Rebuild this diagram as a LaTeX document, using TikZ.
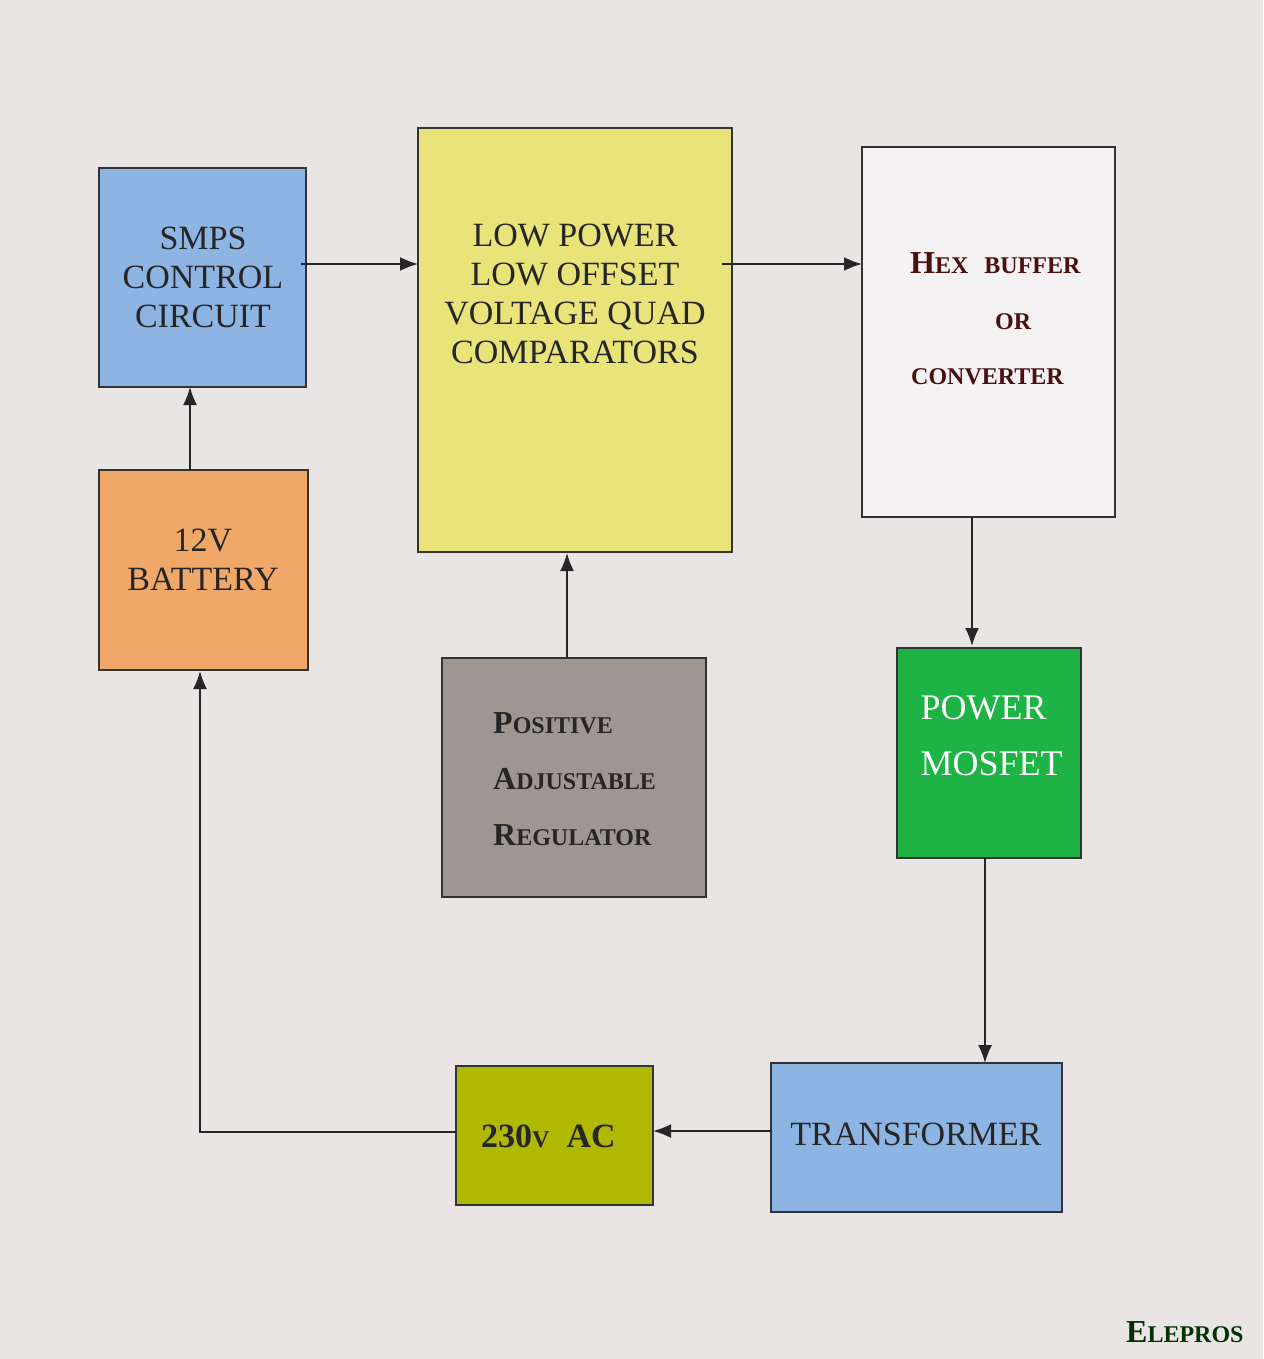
\documentclass[tikz,border=0pt]{standalone}
\usepackage{fontspec}
\setmainfont{Liberation Serif}
\usetikzlibrary{arrows.meta}
\newcommand{\sm}[1]{{\fontsize{24}{24}\selectfont #1}}
\begin{document}
\begin{tikzpicture}[x=1pt,y=-1pt,
 box/.style={draw=black!80,line width=1.5pt},
 lab/.style={align=center,font=\fontsize{34}{39}\selectfont,text=black!85},
 sc/.style={font=\bfseries\fontsize{32}{32}\selectfont,anchor=base west,inner sep=0pt},
 arr/.style={draw=black!85,line width=1.8pt,-{Latex[length=18pt,width=14pt]}}]
\definecolor{bg}{HTML}{EAE5E5}
\definecolor{bl}{HTML}{8DB4E2}
\definecolor{or}{HTML}{F0A868}
\definecolor{ye}{HTML}{E8E47A}
\definecolor{wh}{HTML}{F4F2F2}
\definecolor{gr}{HTML}{9E9690}
\definecolor{gn}{HTML}{1DB345}
\definecolor{ol}{HTML}{B0B800}
\definecolor{dr}{HTML}{4A1010}
\fill[bg] (0,0) rectangle (1263,1359);
\useasboundingbox (0,0) rectangle (1263,1359);
\draw[box,fill=bl] (99,168) rectangle (306,387);
\node[lab] (smpst) at (203,277) {SMPS\\CONTROL\\CIRCUIT};
\draw[box,fill=or] (99,470) rectangle (308,670);
\node[lab] (batt) at (203,560) {12V\\BATTERY};
\draw[box,fill=ye] (418,128) rectangle (732,552);
\node[lab] (cmp) at (575,294) {LOW POWER\\LOW OFFSET\\VOLTAGE QUAD\\COMPARATORS};
\draw[box,fill=wh] (862,147) rectangle (1115,517);
\node[sc,text=dr] (hex1) at (910,273) {H\sm{EX}\ \ \sm{BUFFER}};
\node[sc,text=dr] (hex2) at (995,329) {\sm{OR}};
\node[sc,text=dr] (hex3) at (911,384) {\sm{CONVERTER}};
\draw[box,fill=gr] (442,658) rectangle (706,897);
\node[sc,text=black!85] (p1) at (493,733) {P\sm{OSITIVE}};
\node[sc,text=black!85] (p2) at (493,789) {A\sm{DJUSTABLE}};
\node[sc,text=black!85] (p3) at (493,845) {R\sm{EGULATOR}};
\draw[box,fill=gn] (897,648) rectangle (1081,858);
\node[lab,text=white,align=left,anchor=north west,font=\fontsize{36}{56}\selectfont] (mos) at (917,692) {POWER\\MOSFET};
\draw[box,fill=bl] (771,1063) rectangle (1062,1212);
\node[lab] (tr) at (916,1134) {TRANSFORMER};
\draw[box,fill=ol] (456,1066) rectangle (653,1205);
\node[sc,text=black!85,font=\bfseries\fontsize{34}{34}\selectfont] (ac) at (481,1147) {230\sm{V}\ \ AC};
\node[sc,text=black!80!green] (ele) at (1126,1342) {E\sm{LEPROS}};
\coordinate (a1) at (301,264); \coordinate (a2) at (418,264);
\coordinate (b1) at (722,264); \coordinate (b2) at (862,264);
\coordinate (c1) at (972,517); \coordinate (c2) at (972,646);
\coordinate (d1) at (985,858); \coordinate (d2) at (985,1063);
\coordinate (e1) at (771,1131); \coordinate (e2) at (653,1131);
\coordinate (f1) at (456,1132); \coordinate (f2) at (200,1132); \coordinate (f3) at (200,671);
\coordinate (g1) at (190,470); \coordinate (g2) at (190,387);
\coordinate (h1) at (567,658); \coordinate (h2) at (567,553);
\draw[arr] (a1)--(a2);
\draw[arr] (b1)--(b2);
\draw[arr] (c1)--(c2);
\draw[arr] (d1)--(d2);
\draw[arr] (e1)--(e2);
\draw[arr] (f1)--(f2)--(f3);
\draw[arr] (g1)--(g2);
\draw[arr] (h1)--(h2);
\end{tikzpicture}
\end{document}
